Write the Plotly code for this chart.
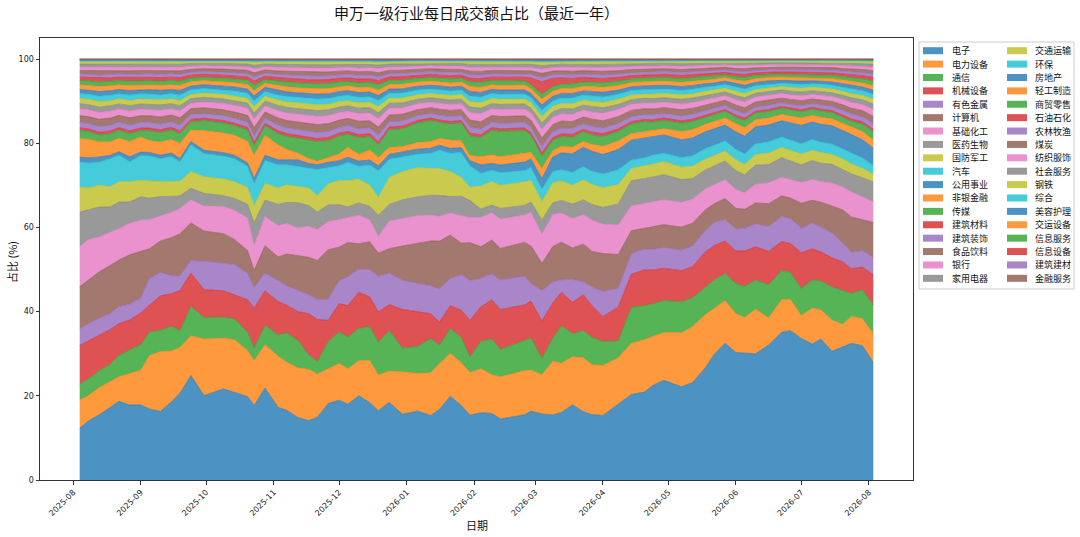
import plotly.graph_objects as go

# trading days (roughly weekly)
DATES = [
    "2025-08-04", "2025-08-08", "2025-08-13", "2025-08-18", "2025-08-22", "2025-08-27",
    "2025-09-01", "2025-09-05", "2025-09-10", "2025-09-15", "2025-09-19", "2025-09-24",
    "2025-09-30", "2025-10-09", "2025-10-14", "2025-10-20", "2025-10-23", "2025-10-28",
    "2025-11-03", "2025-11-07", "2025-11-12", "2025-11-17", "2025-11-21", "2025-11-26",
    "2025-12-01", "2025-12-05", "2025-12-10", "2025-12-15", "2025-12-19", "2025-12-24",
    "2025-12-30", "2026-01-06", "2026-01-12", "2026-01-16", "2026-01-21", "2026-01-26",
    "2026-01-30", "2026-02-04", "2026-02-09", "2026-02-13", "2026-02-24", "2026-02-27",
    "2026-03-04", "2026-03-09", "2026-03-13", "2026-03-18", "2026-03-23", "2026-03-27",
    "2026-04-01", "2026-04-08", "2026-04-14", "2026-04-20", "2026-04-24", "2026-04-29",
    "2026-05-07", "2026-05-12", "2026-05-18", "2026-05-22", "2026-05-27", "2026-06-01",
    "2026-06-05", "2026-06-10", "2026-06-16", "2026-06-22", "2026-06-26", "2026-07-01",
    "2026-07-06", "2026-07-10", "2026-07-15", "2026-07-20", "2026-07-24", "2026-07-29",
    "2026-08-03",
]

# daily turnover share (%) by industry
electronics = [12.3, 14.0, 15.5, 17.2, 18.6, 17.8, 17.8, 16.6, 16.5, 18.5,
               20.6, 25.0, 20.2, 21.8, 21.0, 20.0, 17.8, 22.0, 17.4, 16.5,
               15.0, 14.3, 15.2, 18.2, 19.0, 18.0, 20.0, 18.4, 16.5, 18.6,
               15.8, 16.5, 15.5, 17.0, 20.2, 17.8, 15.4, 16.0, 15.8, 14.5,
               15.5, 16.5, 16.0, 15.6, 16.2, 18.0, 16.2, 15.6, 15.4, 18.0,
               20.6, 21.2, 22.8, 24.0, 22.5, 23.5, 26.8, 30.0, 32.8, 30.5,
               30.5, 30.3, 32.5, 35.6, 36.0, 34.0, 32.8, 34.0, 31.0, 32.0,
               33.0, 32.5, 28.5]
power_equip = [6.7, 6.0, 6.5, 6.3, 5.8, 7.5, 8.2, 12.5, 14.4, 12.1,
               10.9, 9.5, 13.5, 12.2, 12.5, 11.0, 10.7, 10.3, 12.3, 11.3,
               11.9, 12.4, 10.5, 8.3, 8.7, 8.5, 8.3, 10.0, 8.5, 7.5,
               10.2, 9.0, 10.3, 11.0, 10.3, 10.2, 10.2, 10.5, 9.2, 10.0,
               10.5, 9.8, 9.5, 12.9, 11.8, 11.5, 12.8, 11.9, 11.9, 11.0,
               12.3, 12.6, 11.8, 11.5, 13.0, 13.5, 12.7, 11.0, 10.2, 9.3,
               8.5, 10.7, 6.5, 7.9, 7.5, 5.5, 8.7, 7.0, 7.5, 5.5,
               6.5, 6.5, 7.0]
telecom = [3.8, 4.0, 4.0, 4.0, 5.1, 5.7, 6.1, 5.5, 5.1, 5.9,
           4.0, 7.0, 5.1, 5.0, 5.0, 4.4, 3.0, 4.7, 5.1, 7.0,
           6.6, 3.5, 3.0, 6.5, 7.5, 7.5, 7.7, 8.0, 7.8, 9.7,
           5.7, 6.5, 8.2, 4.5, 6.0, 6.0, 3.7, 6.5, 8.5, 6.5,
           7.3, 7.7, 4.0, 5.5, 9.0, 5.5, 6.5, 6.5, 5.7, 4.0,
           8.7, 8.2, 7.8, 7.7, 7.5, 7.0, 6.5, 6.8, 6.5, 7.2,
           7.5, 7.0, 8.0, 7.0, 6.5, 6.5, 6.8, 7.0, 8.0, 8.0,
           5.5, 7.0, 7.0]
machinery = [9.2, 9.0, 8.3, 8.3, 7.5, 7.0, 7.5, 6.2, 8.3, 7.7,
             9.5, 8.0, 6.7, 6.3, 5.8, 7.8, 9.5, 8.2, 8.0, 6.5,
             6.9, 9.9, 10.2, 5.0, 6.8, 7.5, 8.5, 7.1, 7.2, 6.2,
             9.3, 8.3, 6.0, 5.5, 5.5, 6.5, 8.7, 8.2, 9.3, 9.5,
             8.3, 8.8, 9.0, 8.5, 8.0, 7.5, 8.5, 7.5, 6.0, 8.0,
             7.9, 8.7, 8.1, 7.8, 7.5, 7.5, 8.5, 8.2, 7.8, 7.8,
             8.5, 8.0, 8.0, 7.0, 7.0, 8.6, 7.5, 7.0, 7.0, 7.0,
             6.0, 5.5, 7.3]
nonferrous = [4.0, 4.0, 4.2, 3.8, 4.0, 3.8, 3.5, 6.3, 5.7, 4.3,
              3.5, 3.0, 6.8, 6.6, 7.2, 6.3, 5.0, 4.3, 5.1, 4.6,
              5.1, 4.6, 4.8, 5.0, 5.5, 6.8, 5.5, 6.5, 8.5, 7.5,
              7.0, 6.7, 6.7, 8.0, 6.5, 8.5, 9.5, 6.8, 6.2, 7.0,
              6.9, 4.2, 7.4, 5.0, 3.0, 5.5, 3.0, 4.5, 6.0, 4.5,
              5.0, 5.0, 5.0, 5.0, 5.0, 5.0, 5.0, 5.5, 5.2, 5.2,
              5.5, 5.5, 6.0, 6.0, 6.0, 5.9, 6.2, 6.0, 6.0, 4.5,
              4.0, 4.0, 4.2]
computer = [10.0, 10.5, 11.0, 11.4, 11.0, 11.7, 11.0, 7.0, 7.5, 9.0,
            10.0, 9.0, 7.2, 7.1, 6.0, 5.5, 4.0, 6.5, 5.6, 7.5,
            8.3, 9.0, 9.5, 11.8, 7.9, 8.2, 6.0, 6.6, 5.5, 5.9,
            8.2, 9.6, 10.8, 11.5, 10.5, 7.5, 9.0, 7.5, 8.0, 7.5,
            8.0, 9.0, 6.6, 8.5, 9.0, 7.5, 9.0, 8.5, 9.0, 8.0,
            5.5, 5.0, 5.5, 5.5, 5.5, 5.5, 5.0, 4.5, 5.0, 5.0,
            4.5, 5.0, 5.5, 5.0, 5.0, 6.0, 5.5, 6.0, 6.5, 8.0,
            8.5, 7.5, 8.5]
chemicals = [9.5, 9.5, 8.3, 7.8, 7.4, 7.5, 7.5, 6.8, 6.0, 6.0,
             6.0, 5.5, 6.0, 6.5, 7.0, 7.8, 6.0, 7.0, 7.5, 7.2,
             6.7, 7.5, 7.5, 6.7, 6.6, 6.0, 6.8, 5.2, 4.0, 6.6,
             6.6, 6.7, 6.2, 6.0, 5.3, 6.5, 6.0, 7.0, 6.5, 7.0,
             6.5, 8.0, 7.0, 7.7, 7.0, 7.0, 7.0, 7.5, 7.0, 7.0,
             6.0, 6.0, 6.0, 6.0, 6.0, 5.8, 5.0, 4.5, 4.5, 4.5,
             4.0, 4.5, 5.0, 4.5, 4.5, 5.0, 5.0, 5.0, 5.5, 5.5,
             6.0, 5.5, 5.0]
pharma = [8.2, 7.1, 7.1, 6.1, 6.3, 5.1, 5.5, 5.0, 4.7, 3.8,
          3.0, 2.8, 3.0, 2.6, 2.8, 3.3, 5.4, 3.9, 5.1, 5.0,
          6.0, 5.0, 4.2, 4.0, 3.5, 2.5, 2.9, 3.2, 5.0, 4.0,
          4.5, 4.5, 4.8, 5.0, 4.0, 4.7, 4.0, 2.0, 1.8, 2.5,
          2.3, 2.5, 3.5, 2.8, 3.0, 3.5, 3.5, 3.7, 4.0, 5.0,
          6.0, 6.0, 6.0, 6.0, 5.5, 5.0, 4.5, 4.5, 4.5, 4.5,
          4.3, 4.6, 4.4, 4.7, 4.5, 4.2, 4.6, 4.4, 4.5, 4.3,
          4.4, 4.6, 4.8]
defense = [6.0, 5.2, 5.2, 4.8, 4.8, 4.8, 3.9, 4.0, 3.6, 3.6,
           3.5, 4.0, 4.0, 4.0, 4.0, 4.0, 4.2, 4.0, 4.0, 4.2,
           4.0, 4.2, 4.0, 5.0, 5.8, 6.3, 5.6, 5.1, 4.3, 6.5,
           6.8, 7.0, 6.5, 6.5, 6.0, 4.5, 3.2, 5.5, 5.6, 5.5,
           5.6, 5.2, 4.5, 4.8, 4.7, 4.5, 4.8, 4.8, 4.7, 4.6,
           3.0, 3.0, 3.0, 3.2, 3.0, 3.0, 2.6, 2.5, 2.4, 2.6,
           2.5, 2.6, 2.8, 2.5, 2.5, 2.6, 2.5, 2.6, 2.4, 2.5,
           2.4, 2.3, 2.0]
autos = [5.9, 5.9, 5.5, 6.7, 6.3, 4.7, 5.9, 5.9, 5.5, 5.9,
         4.6, 6.4, 5.5, 5.5, 5.5, 5.1, 5.2, 5.5, 5.5, 4.7,
         4.7, 4.7, 6.3, 3.9, 3.5, 4.3, 3.1, 4.7, 6.3, 4.3,
         3.6, 3.2, 3.6, 4.4, 4.4, 5.9, 5.1, 3.0, 2.7, 3.0,
         2.7, 3.1, 3.0, 2.7, 2.7, 3.1, 3.1, 3.1, 3.3, 3.5,
         2.0, 2.0, 2.2, 2.0, 2.3, 2.5, 2.5, 2.5, 2.4, 2.5,
         2.5, 2.5, 2.7, 2.5, 2.5, 2.5, 2.6, 2.5, 2.5, 2.4,
         2.5, 2.5, 2.0]
utilities = [1.2, 1.2, 1.2, 0.8, 0.8, 1.2, 0.8, 0.8, 0.8, 0.8,
             0.8, 0.8, 0.8, 0.8, 0.8, 0.8, 1.2, 1.2, 1.2, 1.2,
             1.6, 1.2, 1.2, 1.2, 1.2, 1.2, 1.2, 1.2, 1.2, 1.2,
             1.2, 1.2, 1.2, 1.2, 1.2, 1.2, 1.2, 2.0, 1.6, 1.8,
             2.0, 2.0, 2.5, 3.5, 4.0, 4.4, 4.6, 4.8, 4.6, 4.8,
             4.8, 4.8, 4.4, 4.4, 4.3, 4.3, 4.0, 3.9, 3.8, 4.2,
             4.3, 4.1, 4.0, 3.9, 4.1, 4.4, 4.2, 4.3, 4.4, 4.5,
             4.6, 4.4, 4.2]
nonbank = [4.4, 4.4, 3.6, 3.2, 3.2, 3.6, 3.6, 2.8, 3.2, 3.2,
           3.6, 2.7, 4.7, 4.7, 4.8, 5.2, 5.5, 4.8, 3.6, 2.4,
           1.6, 1.2, 0.8, 1.2, 1.6, 2.4, 1.6, 2.4, 2.0, 1.6,
           1.2, 1.6, 1.6, 1.6, 2.0, 1.6, 1.2, 2.0, 2.0, 2.0,
           2.0, 1.6, 2.5, 1.5, 1.6, 1.6, 1.4, 1.6, 2.0, 2.0,
           1.6, 1.5, 1.5, 1.5, 2.0, 2.0, 1.8, 1.7, 1.7, 2.0,
           2.0, 1.7, 1.7, 1.5, 1.6, 1.8, 1.6, 1.7, 1.7, 1.7,
           1.7, 2.0, 2.0]
media = [1.9, 1.9, 1.6, 1.9, 1.9, 1.9, 1.5, 2.3, 2.3, 2.3,
         2.3, 2.0, 2.4, 2.4, 2.3, 2.7, 2.4, 2.3, 2.7, 3.1,
         3.6, 4.4, 4.8, 4.0, 4.3, 3.1, 4.0, 3.2, 3.0, 4.3,
         4.3, 4.7, 5.1, 3.9, 3.9, 4.3, 4.7, 4.5, 5.9, 6.0,
         5.5, 4.1, 3.0, 2.5, 2.3, 2.4, 2.3, 2.3, 2.3, 2.3,
         2.3, 2.4, 2.0, 2.0, 2.0, 2.0, 1.7, 1.7, 1.6, 1.5,
         1.8, 1.6, 1.6, 1.5, 1.5, 1.5, 1.5, 1.5, 1.5, 1.5,
         1.5, 1.8, 2.0]
building_mat = [0.6, 0.6, 0.65, 0.65, 0.6, 0.65, 0.6, 0.6, 0.65, 0.6,
                0.65, 0.55, 0.55, 0.55, 0.55, 0.6, 0.7, 0.55, 0.65, 0.65,
                0.65, 0.7, 0.7, 0.7, 0.65, 0.65, 0.65, 0.65, 0.7, 0.6,
                0.6, 0.55, 0.55, 0.55, 0.55, 0.55, 0.65, 0.65, 0.6, 0.6,
                0.6, 0.6, 0.75, 0.65, 0.65, 0.65, 0.6, 0.65, 0.65, 0.6,
                0.55, 0.55, 0.55, 0.55, 0.55, 0.55, 0.5, 0.45, 0.45, 0.5,
                0.5, 0.45, 0.45, 0.45, 0.45, 0.45, 0.45, 0.45, 0.45, 0.5,
                0.55, 0.55, 0.6]
construction = [1.3, 1.3, 1.4, 1.4, 1.3, 1.4, 1.3, 1.3, 1.4, 1.3,
                1.4, 1.2, 1.1, 1.2, 1.2, 1.3, 1.6, 1.2, 1.4, 1.4,
                1.4, 1.5, 1.5, 1.5, 1.4, 1.4, 1.4, 1.4, 1.6, 1.3,
                1.3, 1.2, 1.1, 1.2, 1.2, 1.2, 1.4, 1.4, 1.3, 1.3,
                1.3, 1.3, 1.6, 1.4, 1.4, 1.4, 1.3, 1.4, 1.4, 1.3,
                1.2, 1.2, 1.2, 1.1, 1.2, 1.2, 1.1, 1.0, 1.0, 1.1,
                1.1, 1.0, 1.0, 0.9, 0.9, 1.0, 0.9, 1.0, 1.0, 1.1,
                1.2, 1.2, 1.4]
food_bev = [1.6, 1.6, 1.7, 1.7, 1.6, 1.7, 1.6, 1.6, 1.7, 1.6,
            1.7, 1.4, 1.4, 1.4, 1.5, 1.6, 1.9, 1.5, 1.7, 1.7,
            1.8, 1.8, 1.9, 1.8, 1.7, 1.7, 1.8, 1.7, 1.9, 1.6,
            1.6, 1.4, 1.4, 1.4, 1.5, 1.4, 1.7, 1.7, 1.6, 1.6,
            1.6, 1.7, 2.0, 1.7, 1.7, 1.7, 1.6, 1.7, 1.7, 1.6,
            1.5, 1.4, 1.4, 1.4, 1.5, 1.4, 1.3, 1.3, 1.2, 1.3,
            1.4, 1.2, 1.2, 1.1, 1.2, 1.2, 1.1, 1.2, 1.2, 1.3,
            1.4, 1.5, 1.7]
banks = [1.7, 1.6, 1.6, 1.6, 1.5, 1.6, 1.6, 1.5, 1.6, 1.5,
         1.6, 1.3, 1.4, 1.5, 1.6, 1.7, 2.1, 1.5, 1.7, 1.8,
         1.9, 1.9, 2.0, 1.9, 1.8, 1.7, 1.8, 1.8, 2.0, 1.6,
         1.5, 1.4, 1.3, 1.4, 1.4, 1.4, 1.8, 1.9, 1.6, 1.7,
         1.6, 1.7, 2.1, 1.8, 1.7, 1.7, 1.6, 1.7, 1.8, 1.7,
         1.5, 1.4, 1.4, 1.3, 1.4, 1.4, 1.3, 1.2, 1.1, 1.3,
         1.4, 1.2, 1.2, 1.1, 1.1, 1.2, 1.1, 1.2, 1.2, 1.3,
         1.4, 1.5, 1.7]
home_appl = [1.2, 1.2, 1.3, 1.3, 1.2, 1.3, 1.2, 1.2, 1.3, 1.2,
             1.3, 1.1, 1.1, 1.1, 1.1, 1.2, 1.4, 1.1, 1.3, 1.3,
             1.3, 1.4, 1.4, 1.4, 1.3, 1.3, 1.3, 1.3, 1.4, 1.2,
             1.2, 1.1, 1.1, 1.1, 1.1, 1.1, 1.3, 1.3, 1.2, 1.2,
             1.2, 1.2, 1.5, 1.3, 1.3, 1.3, 1.2, 1.3, 1.3, 1.2,
             1.1, 1.1, 1.1, 1.1, 1.1, 1.1, 1.0, 1.0, 0.9, 1.0,
             1.0, 0.9, 0.9, 0.9, 0.9, 0.9, 0.9, 0.9, 0.9, 1.0,
             1.1, 1.1, 1.3]
transport = [1.2, 1.3, 1.3, 1.2, 1.2, 1.2, 1.2, 1.2, 1.2, 1.2,
             1.2, 1.0, 1.0, 1.1, 1.1, 1.2, 1.5, 1.2, 1.3, 1.3,
             1.4, 1.4, 1.4, 1.3, 1.3, 1.2, 1.3, 1.3, 1.5, 1.2,
             1.2, 1.1, 1.0, 1.1, 1.1, 1.1, 1.3, 1.4, 1.2, 1.2,
             1.2, 1.3, 1.6, 1.3, 1.2, 1.3, 1.2, 1.2, 1.3, 1.2,
             1.1, 1.0, 1.1, 1.0, 1.1, 1.0, 1.0, 0.9, 0.9, 1.0,
             1.0, 0.9, 0.9, 0.8, 0.9, 0.9, 0.9, 0.9, 0.9, 1.0,
             1.0, 1.1, 1.2]
environ = [1.2, 1.2, 1.3, 1.3, 1.2, 1.3, 1.2, 1.2, 1.2, 1.2,
           1.3, 1.1, 1.1, 1.1, 1.2, 1.2, 1.4, 1.1, 1.2, 1.3,
           1.3, 1.4, 1.4, 1.4, 1.3, 1.3, 1.3, 1.3, 1.4, 1.2,
           1.2, 1.1, 1.1, 1.1, 1.1, 1.1, 1.3, 1.3, 1.2, 1.2,
           1.2, 1.2, 1.5, 1.3, 1.3, 1.3, 1.2, 1.3, 1.3, 1.2,
           1.1, 1.1, 1.1, 1.1, 1.1, 1.1, 1.0, 0.9, 0.9, 1.0,
           1.1, 0.9, 0.9, 0.8, 0.9, 0.9, 0.8, 0.9, 0.9, 1.0,
           1.1, 1.1, 1.2]
real_estate = [1.0, 1.0, 1.1, 1.1, 1.0, 1.1, 1.0, 1.0, 1.1, 1.0,
               1.1, 0.9, 0.9, 0.9, 1.0, 1.0, 1.2, 1.0, 1.1, 1.1,
               1.1, 1.1, 1.2, 1.1, 1.1, 1.1, 1.1, 1.1, 1.2, 1.0,
               1.0, 0.9, 0.9, 0.9, 0.9, 0.9, 1.1, 1.1, 1.0, 1.0,
               1.0, 1.0, 1.3, 1.1, 1.1, 1.1, 1.0, 1.1, 1.1, 1.0,
               0.9, 0.9, 0.9, 0.9, 0.9, 0.9, 0.8, 0.8, 0.8, 0.8,
               0.9, 0.8, 0.8, 0.7, 0.7, 0.8, 0.7, 0.7, 0.8, 0.8,
               0.9, 0.9, 1.0]
light_mfg = [1.1, 1.1, 1.2, 1.2, 1.1, 1.2, 1.1, 1.1, 1.2, 1.1,
             1.2, 1.0, 1.0, 1.0, 1.0, 1.1, 1.3, 1.0, 1.2, 1.2,
             1.2, 1.3, 1.3, 1.3, 1.2, 1.2, 1.2, 1.2, 1.3, 1.1,
             1.1, 1.0, 1.0, 1.0, 1.0, 1.0, 1.2, 1.2, 1.1, 1.1,
             1.1, 1.1, 1.4, 1.2, 1.2, 1.2, 1.1, 1.2, 1.2, 1.1,
             1.0, 1.0, 1.0, 1.0, 1.0, 1.0, 0.9, 0.9, 0.8, 0.9,
             1.0, 0.9, 0.8, 0.8, 0.8, 0.8, 0.8, 0.8, 0.8, 0.9,
             1.0, 1.0, 1.1]
retail = [1.0, 1.1, 1.1, 1.0, 1.0, 1.0, 1.0, 1.0, 1.0, 1.0,
          1.0, 0.9, 0.8, 0.9, 0.9, 1.0, 1.3, 0.9, 1.0, 1.1,
          1.2, 1.2, 1.2, 1.2, 1.1, 1.0, 1.1, 1.1, 1.3, 1.0,
          1.0, 0.9, 0.9, 0.9, 1.0, 0.9, 1.1, 1.2, 1.0, 1.1,
          1.0, 1.0, 1.2, 1.1, 1.0, 1.1, 1.0, 1.0, 1.1, 1.0,
          0.9, 0.9, 0.9, 0.9, 0.9, 0.9, 0.8, 0.8, 0.7, 0.8,
          0.9, 0.8, 0.7, 0.7, 0.7, 0.7, 0.7, 0.7, 0.8, 0.8,
          0.9, 1.0, 1.1]
petro = [0.8, 0.8, 0.85, 0.85, 0.8, 0.85, 0.8, 0.8, 0.85, 0.8,
         0.85, 0.7, 0.7, 0.7, 0.75, 0.8, 0.95, 0.75, 0.85, 0.85,
         0.9, 0.9, 0.95, 0.9, 0.85, 0.85, 0.9, 0.85, 0.95, 0.8,
         0.8, 0.7, 0.7, 0.7, 0.75, 0.7, 0.85, 0.9, 0.8, 0.85,
         0.9, 1.6, 3.0, 2.0, 1.5, 1.3, 1.1, 1.0, 1.0, 0.9,
         0.75, 0.7, 0.7, 0.7, 0.75, 0.7, 0.65, 0.65, 0.6, 0.65,
         0.7, 0.6, 0.6, 0.55, 0.6, 0.6, 0.6, 0.6, 0.6, 0.65,
         0.7, 0.75, 0.85]
agri = [0.8, 0.8, 0.8, 0.85, 0.8, 0.8, 0.85, 0.8, 0.8, 0.8,
        0.8, 0.7, 0.7, 0.75, 0.75, 0.8, 0.95, 0.75, 0.8, 0.85,
        0.9, 0.95, 0.95, 0.9, 0.85, 0.85, 0.9, 0.9, 0.95, 0.8,
        0.8, 0.75, 0.7, 0.7, 0.75, 0.7, 0.85, 0.85, 0.8, 0.8,
        0.8, 0.85, 1.0, 0.85, 0.85, 0.85, 0.8, 0.85, 0.85, 0.8,
        0.75, 0.7, 0.7, 0.7, 0.75, 0.7, 0.65, 0.65, 0.6, 0.65,
        0.7, 0.6, 0.6, 0.55, 0.6, 0.6, 0.6, 0.6, 0.65, 0.65,
        0.7, 0.75, 0.85]
coal = [0.8, 0.85, 0.9, 0.85, 0.8, 0.8, 0.8, 0.75, 0.8, 0.8,
        0.8, 0.7, 0.65, 0.7, 0.75, 0.8, 1.0, 0.75, 0.8, 0.85,
        0.85, 0.9, 0.9, 0.9, 0.85, 0.8, 0.85, 0.85, 0.95, 0.8,
        0.75, 0.7, 0.7, 0.75, 0.75, 0.7, 0.85, 0.85, 0.8, 0.8,
        0.8, 0.85, 1.05, 0.9, 0.85, 0.85, 0.8, 0.85, 0.85, 0.8,
        0.75, 0.7, 0.7, 0.7, 0.7, 0.7, 0.65, 0.6, 0.6, 0.65,
        0.7, 0.6, 0.55, 0.55, 0.55, 0.6, 0.55, 0.6, 0.6, 0.65,
        0.7, 0.75, 0.8]
textiles = [0.8, 0.8, 0.85, 0.8, 0.8, 0.85, 0.8, 0.8, 0.85, 0.8,
            0.85, 0.75, 0.7, 0.7, 0.75, 0.8, 0.95, 0.8, 0.85, 0.85,
            0.9, 0.95, 0.95, 0.9, 0.85, 0.85, 0.9, 0.9, 0.95, 0.8,
            0.8, 0.75, 0.7, 0.7, 0.75, 0.75, 0.85, 0.9, 0.8, 0.8,
            0.8, 0.8, 1.0, 0.85, 0.85, 0.9, 0.85, 0.85, 0.9, 0.85,
            0.75, 0.75, 0.7, 0.7, 0.75, 0.75, 0.65, 0.65, 0.6, 0.7,
            0.7, 0.65, 0.6, 0.6, 0.6, 0.6, 0.6, 0.6, 0.6, 0.7,
            0.7, 0.75, 0.85]
social_svc = [0.7, 0.7, 0.75, 0.75, 0.7, 0.75, 0.7, 0.7, 0.75, 0.7,
              0.75, 0.65, 0.6, 0.65, 0.65, 0.7, 0.85, 0.65, 0.75, 0.75,
              0.8, 0.8, 0.8, 0.8, 0.75, 0.75, 0.8, 0.75, 0.85, 0.7,
              0.7, 0.65, 0.6, 0.65, 0.65, 0.65, 0.75, 0.75, 0.7, 0.7,
              0.7, 0.75, 0.9, 0.75, 0.75, 0.75, 0.7, 0.75, 0.75, 0.7,
              0.65, 0.65, 0.65, 0.6, 0.65, 0.6, 0.6, 0.55, 0.5, 0.6,
              0.6, 0.55, 0.5, 0.5, 0.5, 0.5, 0.5, 0.5, 0.55, 0.6,
              0.6, 0.65, 0.75]
steel = [0.6, 0.6, 0.65, 0.6, 0.6, 0.6, 0.6, 0.6, 0.65, 0.6,
         0.6, 0.55, 0.5, 0.55, 0.55, 0.6, 0.75, 0.6, 0.65, 0.65,
         0.7, 0.7, 0.7, 0.7, 0.65, 0.6, 0.65, 0.65, 0.7, 0.6,
         0.6, 0.55, 0.5, 0.55, 0.55, 0.55, 0.65, 0.65, 0.6, 0.6,
         0.6, 0.65, 0.8, 0.65, 0.6, 0.65, 0.6, 0.6, 0.65, 0.6,
         0.55, 0.55, 0.55, 0.5, 0.55, 0.55, 0.5, 0.45, 0.45, 0.5,
         0.5, 0.45, 0.45, 0.45, 0.45, 0.45, 0.45, 0.45, 0.45, 0.5,
         0.55, 0.55, 0.6]
conglomerate = [0.15, 0.15, 0.15, 0.15, 0.15, 0.15, 0.15, 0.15, 0.15, 0.15,
                0.15, 0.12, 0.12, 0.12, 0.13, 0.15, 0.18, 0.14, 0.15, 0.16,
                0.17, 0.18, 0.18, 0.17, 0.16, 0.16, 0.17, 0.16, 0.18, 0.15,
                0.15, 0.13, 0.13, 0.13, 0.14, 0.13, 0.16, 0.16, 0.15, 0.15,
                0.15, 0.16, 0.19, 0.16, 0.16, 0.16, 0.15, 0.16, 0.16, 0.15,
                0.14, 0.13, 0.13, 0.13, 0.14, 0.13, 0.12, 0.12, 0.11, 0.12,
                0.13, 0.12, 0.11, 0.11, 0.11, 0.11, 0.11, 0.11, 0.12, 0.12,
                0.13, 0.14, 0.16]
beauty = [0.3, 0.3, 0.32, 0.32, 0.3, 0.32, 0.3, 0.3, 0.32, 0.3,
          0.32, 0.27, 0.26, 0.27, 0.28, 0.3, 0.36, 0.28, 0.32, 0.32,
          0.33, 0.34, 0.35, 0.34, 0.32, 0.32, 0.33, 0.33, 0.36, 0.3,
          0.29, 0.27, 0.26, 0.27, 0.28, 0.27, 0.32, 0.33, 0.3, 0.31,
          0.3, 0.31, 0.38, 0.33, 0.32, 0.32, 0.31, 0.32, 0.32, 0.31,
          0.28, 0.27, 0.27, 0.26, 0.28, 0.27, 0.25, 0.24, 0.22, 0.25,
          0.26, 0.23, 0.22, 0.21, 0.22, 0.22, 0.22, 0.22, 0.23, 0.25,
          0.27, 0.28, 0.31]
# legacy classifications: next to nothing left, shows as hairlines at 100
transport_eq = [0.04, 0.04, 0.04, 0.04, 0.04, 0.04, 0.04, 0.04, 0.04, 0.04,
                0.04, 0.03, 0.03, 0.03, 0.04, 0.04, 0.05, 0.04, 0.04, 0.04,
                0.04, 0.05, 0.05, 0.05, 0.04, 0.04, 0.04, 0.04, 0.05, 0.04,
                0.04, 0.03, 0.03, 0.03, 0.04, 0.03, 0.04, 0.04, 0.04, 0.04,
                0.04, 0.04, 0.05, 0.04, 0.04, 0.04, 0.04, 0.04, 0.04, 0.04,
                0.04, 0.03, 0.03, 0.03, 0.04, 0.03, 0.03, 0.03, 0.03, 0.03,
                0.03, 0.03, 0.03, 0.03, 0.03, 0.03, 0.03, 0.03, 0.03, 0.03,
                0.03, 0.04, 0.04]
info_svc = [0.03, 0.03, 0.03, 0.03, 0.03, 0.03, 0.03, 0.03, 0.03, 0.03,
            0.03, 0.03, 0.03, 0.03, 0.03, 0.03, 0.04, 0.03, 0.03, 0.03,
            0.03, 0.04, 0.04, 0.04, 0.03, 0.03, 0.03, 0.03, 0.04, 0.03,
            0.03, 0.03, 0.03, 0.03, 0.03, 0.03, 0.03, 0.03, 0.03, 0.03,
            0.03, 0.03, 0.04, 0.03, 0.03, 0.03, 0.03, 0.03, 0.03, 0.03,
            0.03, 0.03, 0.03, 0.03, 0.03, 0.03, 0.02, 0.02, 0.02, 0.02,
            0.02, 0.02, 0.02, 0.02, 0.02, 0.02, 0.02, 0.02, 0.02, 0.02,
            0.03, 0.03, 0.03]
info_equip = [0.03, 0.03, 0.03, 0.03, 0.03, 0.03, 0.03, 0.03, 0.03, 0.03,
              0.03, 0.02, 0.02, 0.02, 0.03, 0.03, 0.04, 0.03, 0.03, 0.03,
              0.03, 0.03, 0.04, 0.03, 0.03, 0.03, 0.03, 0.03, 0.04, 0.03,
              0.03, 0.02, 0.02, 0.02, 0.03, 0.02, 0.03, 0.03, 0.03, 0.03,
              0.03, 0.03, 0.04, 0.03, 0.03, 0.03, 0.03, 0.03, 0.03, 0.03,
              0.03, 0.02, 0.02, 0.02, 0.03, 0.02, 0.02, 0.02, 0.02, 0.02,
              0.02, 0.02, 0.02, 0.02, 0.02, 0.02, 0.02, 0.02, 0.02, 0.02,
              0.02, 0.03, 0.03]
build_mat_old = [0.02, 0.02, 0.02, 0.02, 0.02, 0.02, 0.02, 0.02, 0.02, 0.02,
                 0.02, 0.02, 0.02, 0.02, 0.02, 0.02, 0.03, 0.02, 0.02, 0.02,
                 0.02, 0.03, 0.03, 0.03, 0.02, 0.02, 0.02, 0.02, 0.03, 0.02,
                 0.02, 0.02, 0.02, 0.02, 0.02, 0.02, 0.02, 0.02, 0.02, 0.02,
                 0.02, 0.02, 0.03, 0.02, 0.02, 0.02, 0.02, 0.02, 0.02, 0.02,
                 0.02, 0.02, 0.02, 0.02, 0.02, 0.02, 0.02, 0.02, 0.02, 0.02,
                 0.02, 0.02, 0.02, 0.02, 0.02, 0.02, 0.02, 0.02, 0.02, 0.02,
                 0.02, 0.02, 0.02]
fin_svc = [0.03, 0.03, 0.03, 0.03, 0.03, 0.03, 0.03, 0.03, 0.03, 0.03,
           0.03, 0.02, 0.02, 0.02, 0.03, 0.03, 0.04, 0.03, 0.03, 0.03,
           0.03, 0.03, 0.04, 0.03, 0.03, 0.03, 0.03, 0.03, 0.04, 0.03,
           0.03, 0.02, 0.02, 0.02, 0.03, 0.02, 0.03, 0.03, 0.03, 0.03,
           0.03, 0.03, 0.04, 0.03, 0.03, 0.03, 0.03, 0.03, 0.03, 0.03,
           0.03, 0.02, 0.02, 0.02, 0.03, 0.02, 0.02, 0.02, 0.02, 0.02,
           0.02, 0.02, 0.02, 0.02, 0.02, 0.02, 0.02, 0.02, 0.02, 0.02,
           0.02, 0.03, 0.03]

SERIES = [
    ("电子", electronics), ("电力设备", power_equip), ("通信", telecom),
    ("机械设备", machinery), ("有色金属", nonferrous), ("计算机", computer),
    ("基础化工", chemicals), ("医药生物", pharma), ("国防军工", defense),
    ("汽车", autos), ("公用事业", utilities), ("非银金融", nonbank),
    ("传媒", media), ("建筑材料", building_mat), ("建筑装饰", construction),
    ("食品饮料", food_bev), ("银行", banks), ("家用电器", home_appl),
    ("交通运输", transport), ("环保", environ), ("房地产", real_estate),
    ("轻工制造", light_mfg), ("商贸零售", retail), ("石油石化", petro),
    ("农林牧渔", agri), ("煤炭", coal), ("纺织服饰", textiles),
    ("社会服务", social_svc), ("钢铁", steel), ("综合", conglomerate),
    ("美容护理", beauty), ("交运设备", transport_eq), ("信息服务", info_svc),
    ("信息设备", info_equip), ("建筑建材", build_mat_old), ("金融服务", fin_svc),
]

for name, vals in SERIES:
    if len(vals) != len(DATES):
        raise ValueError(f"{name}: {len(vals)} values, {len(DATES)} dates")

# matplotlib tab10 cycle
TAB10 = ["31,119,180", "255,127,14", "44,160,44", "214,39,40", "148,103,189",
         "140,86,75", "227,119,194", "127,127,127", "188,189,34", "23,190,207"]

W, H = 1080, 537
L, R, T, B = 40, 913, 38, 480   # plot area in pixels


def fx(px):
    return (px - L) / (R - L)


def fy(py):
    return (B - py) / (B - T)


fig = go.Figure()
for i, (name, vals) in enumerate(SERIES):
    rgb = TAB10[i % 10]
    fig.add_trace(go.Scatter(
        x=DATES, y=vals, name=name, mode="lines",
        stackgroup="share", groupnorm="percent" if i == 0 else None,
        line=dict(width=0.7, color=f"rgba({rgb},0.9)"),
        fillcolor=f"rgba({rgb},0.8)",
        showlegend=False,
    ))

# legend drawn by hand: two columns of 18, like the reference
shapes = [dict(type="rect", xref="paper", yref="paper",
               x0=fx(919), x1=fx(1074), y0=fy(289), y1=fy(42),
               line=dict(color="#cccccc", width=1), fillcolor="white")]
annotations = []
for i, (name, _) in enumerate(SERIES):
    col, row = divmod(i, 18)
    yc = 50.7 + 13.39 * row
    x_patch = 923 if col == 0 else 1007
    x_text = 950 if col == 0 else 1033
    shapes.append(dict(type="rect", xref="paper", yref="paper",
                       x0=fx(x_patch), x1=fx(x_patch + 20),
                       y0=fy(yc + 3.5), y1=fy(yc - 3.5),
                       line=dict(width=0), fillcolor=f"rgba({TAB10[i % 10]},0.8)"))
    annotations.append(dict(text=name, xref="paper", yref="paper",
                            x=fx(x_text), y=fy(yc), xanchor="left", yanchor="middle",
                            showarrow=False,
                            font=dict(family="Noto Sans CJK SC", size=9, color="#111")))

annotations.append(dict(text="日期", xref="paper", yref="paper", x=fx(476.5), y=fy(525),
                        xanchor="center", yanchor="middle", showarrow=False,
                        font=dict(family="Noto Sans CJK SC", size=11, color="#111")))
annotations.append(dict(text="占比 (%)", xref="paper", yref="paper", x=fx(12), y=fy(262),
                        xanchor="center", yanchor="middle", showarrow=False, textangle=-90,
                        font=dict(family="Noto Sans CJK SC", size=11, color="#111")))

fig.update_layout(
    width=W, height=H,
    margin=dict(l=L, r=W - R, t=T, b=H - B),
    paper_bgcolor="white", plot_bgcolor="white",
    font=dict(family="DejaVu Sans, Noto Sans CJK SC", size=8, color="#222"),
    title=dict(text="申万一级行业每日成交额占比（最近一年）",
               x=(L + R) / 2 / W, xanchor="center", y=1 - 14 / H, yanchor="middle",
               font=dict(family="Noto Sans CJK SC", size=15, color="#111")),
    shapes=shapes, annotations=annotations,
    showlegend=False,
)
fig.update_xaxes(type="date", range=["2025-07-16 19:00", "2026-08-21 05:00"],
                 dtick="M1", tick0="2025-08-01", tickformat="%Y-%m", tickangle=-45,
                 ticks="outside", ticklen=3.5, tickwidth=0.8, tickcolor="#333",
                 showline=True, linecolor="#333", linewidth=1, mirror=True,
                 showgrid=False, zeroline=False)
fig.update_yaxes(range=[0, 105], tickvals=[0, 20, 40, 60, 80, 100],
                 ticks="outside", ticklen=3.5, tickwidth=0.8, tickcolor="#333",
                 showline=True, linecolor="#333", linewidth=1, mirror=True,
                 showgrid=False, zeroline=False)

# the page's default body margin would push the 1080x537 figure off the window
fig.write_html("out.html", config={"displayModeBar": False},
               post_script="document.body.style.margin='0px';")
